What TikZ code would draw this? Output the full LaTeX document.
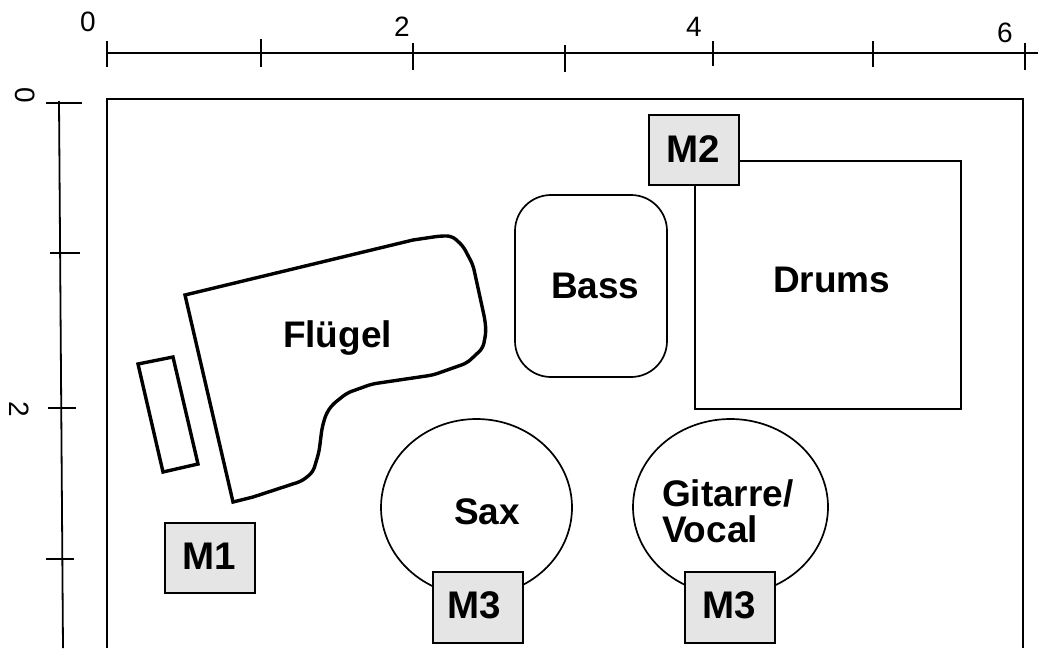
\documentclass[tikz,border=0pt]{standalone}
\usepackage{fontspec}
\setmainfont{Liberation Sans}
\tikzset{
  lab/.style={font=\fontsize{37}{39}\bfseries\selectfont, anchor=base west, inner sep=0pt, outer sep=0pt, black},
  miclab/.style={font=\fontsize{38.5}{41}\bfseries\selectfont, anchor=base west, inner sep=0pt, outer sep=0pt, black},
  num/.style={font=\fontsize{28}{30}\selectfont, inner sep=0pt, black},
  mic/.style={draw=black, line width=1.9pt, fill=black!10},
  thing/.style={draw=black, line width=1.7pt, fill=white},
  rule/.style={draw=black, line width=1.8pt},
  heavy/.style={draw=black, line width=3.4pt, line join=miter}
}
\begin{document}
\begin{tikzpicture}[x=1pt,y=-1pt]
\useasboundingbox (0,0) rectangle (1038,648);
% ruler top
\coordinate (rA) at (107,53); \coordinate (rB) at (1038,53);
\draw[rule] (rA) -- (rB);
\foreach \x/\a/\b in {107/41/67,261/39/67,413/43/70,565/45/72,713/41/66,873/41/67,1025/43/70}
  \draw[rule] (\x,\a) -- (\x,\b);
\node[num] (t0) at (88,22) {0};
\node[num] (t2) at (402,27) {2};
\node[num] (t4) at (694,27) {4};
\node[num] (t6) at (1005,33) {6};
% ruler left
\coordinate (sA) at (59,101); \coordinate (sB) at (63,648);
\draw[rule] (sA) -- (sB);
\draw[rule] (46,103) -- (82,103);
\draw[rule] (50,253) -- (80,253);
\draw[rule] (48,408) -- (76,408);
\draw[rule] (46,559) -- (74,559);
\node[num,rotate=-90] (l0) at (25,95) {0};
\node[num,rotate=-90] (l2) at (19,409) {2};
% room
\draw[rule] (107,648) -- (107,99) -- (1023,99) -- (1023,648);
% drums
\draw[thing] (695,161) rectangle (961,409);
\node[lab] (drums) at (773,292) {Drums};
% bass
\draw[thing,rounded corners=36pt] (515,195) rectangle (667,377);
\node[lab] (bass) at (551,298) {Bass};
% sax, guitar
\draw[thing] (476.5,507.5) ellipse [x radius=95.5, y radius=88.5];
\node[lab] (sax) at (454,524) {Sax};
\draw[thing] (730.5,507) ellipse [x radius=97.5, y radius=88];
\node[lab] (git) at (662,506) {Gitarre/};
\node[lab] (voc) at (662,542) {Vocal};
% piano
\draw[heavy] (185,295) -- (413,240) [rounded corners=5pt] -- (440,236) -- (452,236) -- (463,246) -- (473,265) -- (485,320) -- (486,332) -- (483,348) -- (467,363) -- (433,375) -- (372,384) -- (347,393) -- (332,405) -- (326,414) -- (322,428) -- (319,452) -- (313,472) -- (302,481) [sharp corners] -- (253,497) -- (233,502) -- cycle;
\draw[heavy] (138,364) -- (173,357) -- (198,464) -- (163,472) -- cycle;
\node[lab] (fl) at (283,347) {Flügel};
% mics
\draw[mic] (165,523) rectangle (255,593);
\node[miclab] (m1) at (182,569) {M1};
\draw[mic] (649,115) rectangle (739,185);
\node[miclab] (m2) at (666,162) {M2};
\draw[mic] (433,572) rectangle (523,643);
\node[miclab] (m3a) at (447,618) {M3};
\draw[mic] (685,572) rectangle (775,643);
\node[miclab] (m3b) at (702,618) {M3};
\end{tikzpicture}
\end{document}
